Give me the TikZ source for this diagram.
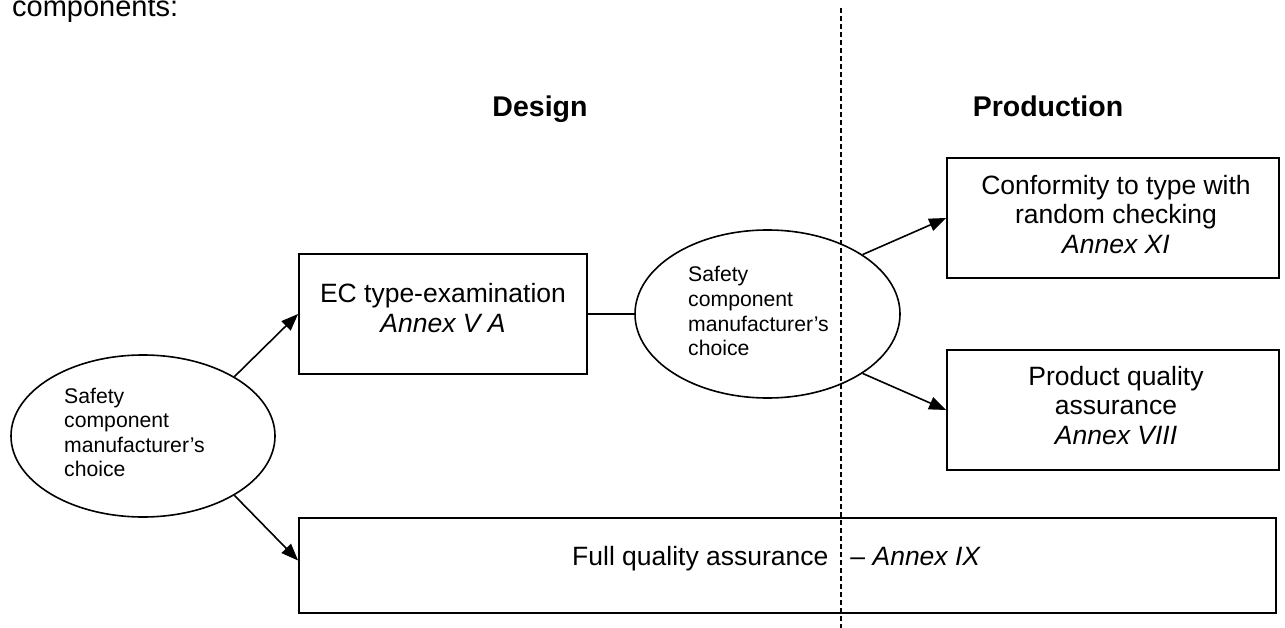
\documentclass[tikz,border=0pt]{standalone}
\usepackage{fontspec}
\setmainfont{Liberation Sans}
\usetikzlibrary{arrows.meta,shapes.geometric}
\begin{document}
\begin{tikzpicture}[x=1pt,y=-1pt,
  boxnode/.style={draw,line width=1.8pt,rectangle,inner sep=0pt},
  oval/.style={draw,ellipse,line width=1.6pt,inner sep=0pt},
  arr/.style={line width=1.6pt,-{Triangle[length=17pt,width=13pt]}},
  link/.style={line width=1.6pt},
  divider/.style={line width=1.6pt,dash pattern=on 5pt off 3pt},
  boxtxt/.style={anchor=base,inner sep=0pt,font=\fontsize{26.5}{30}\selectfont},
  ovaltxt/.style={anchor=base west,inner sep=0pt,font=\fontsize{21.2}{24.5}\selectfont},
  head/.style={anchor=base,inner sep=0pt,font=\fontsize{28.5}{33}\selectfont\bfseries},
  intro/.style={anchor=base west,inner sep=0pt,font=\fontsize{29}{33}\selectfont}]
\useasboundingbox (0,0) rectangle (1285,628);

% divider
\coordinate (dtop) at (841,8);
\coordinate (dbot) at (841,628);
\draw[divider] (dtop) -- (dbot);

% intro text and headings
\node[intro] (intro) at (12,17) {components:};
\node[head] (hdesign) at (540,117) {Design};
\node[head] (hprod) at (1048,117) {Production};

% shapes
\node[oval,minimum width=264pt,minimum height=162pt] (e1) at (143,436) {};
\node[oval,minimum width=265pt,minimum height=168pt] (e2) at (767.5,314) {};
\node[boxnode,minimum width=288pt,minimum height=120pt] (ec) at (443,314) {};
\node[boxnode,minimum width=332pt,minimum height=120pt] (conf) at (1113,218) {};
\node[boxnode,minimum width=332pt,minimum height=120pt] (prod) at (1113,410) {};
\node[boxnode,minimum width=977pt,minimum height=95pt] (fq) at (787.5,565.5) {};

% ellipse texts
\node[ovaltxt] (e1a) at (64,403) {Safety};
\node[ovaltxt] (e1b) at (64,427.5) {component};
\node[ovaltxt] (e1c) at (64,452) {manufacturer’s};
\node[ovaltxt] (e1d) at (64,476.5) {choice};
\node[ovaltxt] (e2a) at (688,282) {Safety};
\node[ovaltxt] (e2b) at (688,306.5) {component};
\node[ovaltxt] (e2c) at (688,331) {manufacturer’s};
\node[ovaltxt] (e2d) at (688,355.5) {choice};

% box texts
\node[boxtxt] (eca) at (443,302) {EC type-examination};
\node[boxtxt] (ecb) at (443,332) {\itshape Annex V A};
\node[boxtxt] (confa) at (1116,194.5) {Conformity to type with};
\node[boxtxt] (confb) at (1116,224) {random checking};
\node[boxtxt] (confc) at (1116,253.5) {\itshape Annex XI};
\node[boxtxt] (proda) at (1116,385) {Product quality};
\node[boxtxt] (prodb) at (1116,414.5) {assurance};
\node[boxtxt] (prodc) at (1116,444) {\itshape Annex VIII};
\node[boxtxt,anchor=base west] (fqt) at (572,565) {Full quality assurance\hspace{22pt}– \textit{Annex IX}};

% connectors
\draw[arr] (e1.33) -- (ec.west);
\draw[arr] (e1.-33) -- ([yshift=5pt]fq.west);
\draw[link] (ec.east) -- (e2.west);
\draw[arr] (e2.32) -- (conf.west);
\draw[arr] (e2.-32) -- (prod.west);
\end{tikzpicture}
\end{document}
